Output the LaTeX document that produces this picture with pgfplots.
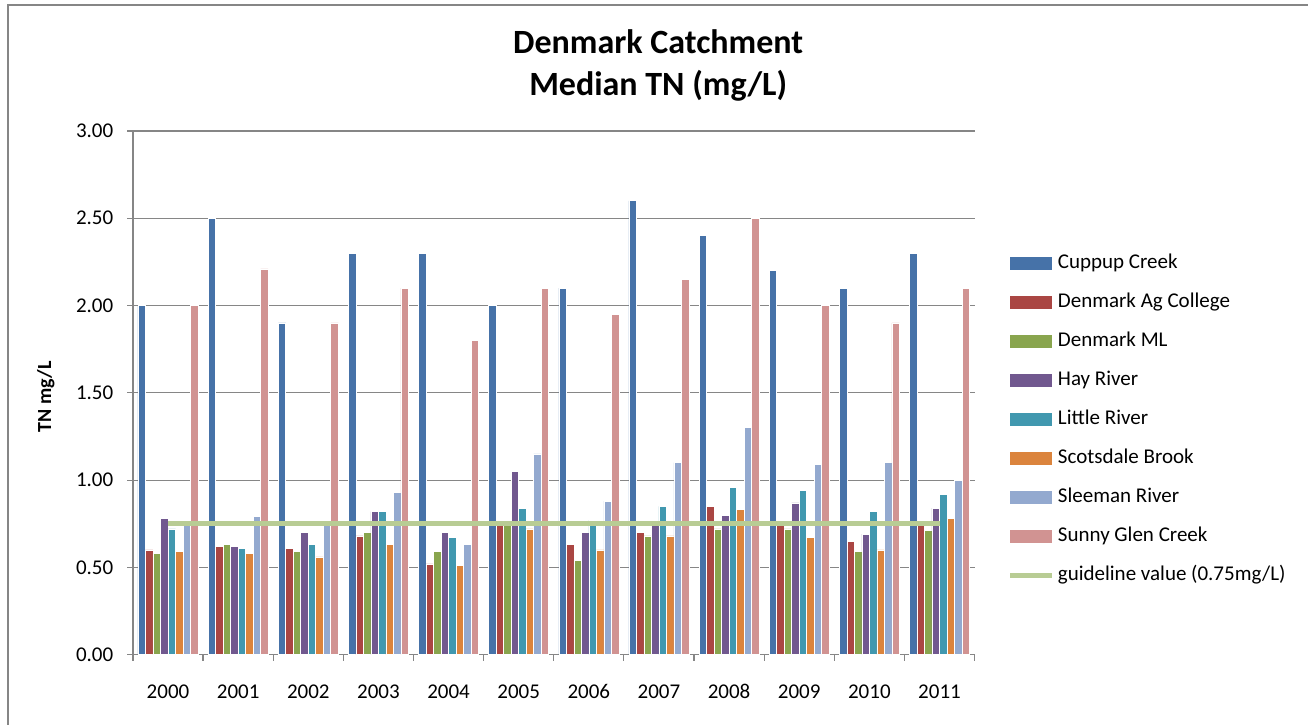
\documentclass[border=0pt]{standalone}
\usepackage{pgfplots}
\usepackage{pgfplotstable}
\pgfplotsset{compat=1.18}
\usepackage{fontspec}
\setmainfont{Carlito}

\definecolor{cup}{RGB}{70,114,168}
\definecolor{agc}{RGB}{170,70,67}
\definecolor{dml}{RGB}{137,165,78}
\definecolor{hay}{RGB}{113,88,143}
\definecolor{lit}{RGB}{65,152,175}
\definecolor{sco}{RGB}{219,132,61}
\definecolor{sle}{RGB}{147,169,207}
\definecolor{sun}{RGB}{209,147,146}
\definecolor{guide}{RGB}{184,204,148}
\definecolor{gridgray}{RGB}{134,134,134}

% median TN per site, year index 0 = 2000
\pgfplotstableread{
yr  cup  ag   ml   hay  lit  sco  sle  sun
0   2.00 0.60 0.58 0.78 0.72 0.59 0.74 2.00
1   2.50 0.62 0.63 0.62 0.61 0.58 0.79 2.21
2   1.90 0.61 0.59 0.70 0.63 0.56 0.74 1.90
3   2.30 0.68 0.70 0.82 0.82 0.63 0.93 2.10
4   2.30 0.52 0.59 0.70 0.67 0.51 0.63 1.80
5   2.00 0.75 0.75 1.05 0.84 0.72 1.15 2.10
6   2.10 0.63 0.54 0.70 0.77 0.60 0.88 1.95
7   2.60 0.70 0.68 0.77 0.85 0.68 1.10 2.15
8   2.40 0.85 0.72 0.80 0.96 0.83 1.30 2.50
9   2.20 0.74 0.72 0.87 0.94 0.67 1.09 2.00
10  2.10 0.65 0.59 0.69 0.82 0.60 1.10 1.90
11  2.30 0.74 0.71 0.84 0.92 0.78 1.00 2.10
}\tn

\pgfplotsset{
  barleg/.style={legend image code/.code={\fill[##1,draw=none] (0pt,-3.25pt) rectangle (21pt,3.25pt);}},
  lineleg/.style={legend image code/.code={\draw[##1] (0pt,0pt) -- (21pt,0pt);}},
}

\begin{document}
\begin{tikzpicture}
% canvas: 1px of the reference = 0.5pt, origin at the lower left of the plot area
\path[fill=white] (-66.5pt,-35pt) rectangle (588pt,327.5pt);
\draw[gridgray,line width=0.6pt] (-62.5pt,-35pt) -- (-62.5pt,325pt) -- (588pt,325pt);

\begin{axis}[
    at={(0pt,0pt)}, anchor=south west,
    scale only axis, width=421pt, height=262pt,
    ybar=0pt, bar width=0.107,
    xmin=-0.5, xmax=11.5, ymin=0, ymax=3,
    axis x line*=bottom, axis y line*=left,
    axis line style={gridgray,line width=0.6pt},
    tick align=outside,
    xtick={0,...,11},
    xticklabels={2000,2001,2002,2003,2004,2005,2006,2007,2008,2009,2010,2011},
    major x tick style={draw=none},
    minor xtick={-0.5,0.5,...,11.5},
    minor tick length=3pt,
    minor x tick style={gridgray,line width=0.6pt},
    ytick={0,0.5,...,3},
    major tick length=2.8pt,
    major y tick style={gridgray,line width=0.6pt},
    ymajorgrids=true,
    grid style={gridgray,line width=0.6pt},
    /pgf/number format/assume math mode=true,
    tick label style={font=\fontsize{10.5}{12}\selectfont},
    yticklabel style={/pgf/number format/fixed,/pgf/number format/fixed zerofill,
      /pgf/number format/precision=2,xshift=-3.5pt},
    xticklabel style={anchor=base,yshift=-19pt},
    ylabel={\bfseries TN mg/L},
    ylabel style={at={(axis description cs:-0.1035,0.492)},anchor=center,font=\fontsize{10}{12}\selectfont},
    legend style={at={(axis description cs:1.0392,0.7653)},anchor=north west,
      draw=none,fill=none,inner sep=0pt,row sep=10.5pt,
      font=\fontsize{10.5}{12}\selectfont,
      nodes={inner sep=0pt,text height=7pt,text depth=2pt},
      /tikz/every odd column/.append style={column sep=1.5pt}},
    legend cell align=left,
    every axis plot/.append style={draw=white,line width=0.3pt},
]
\addplot[fill=cup,barleg] table[x=yr,y=cup] {\tn};
\addlegendentry{Cuppup Creek}
\addplot[fill=agc,barleg] table[x=yr,y=ag] {\tn};
\addlegendentry{Denmark Ag College}
\addplot[fill=dml,barleg] table[x=yr,y=ml] {\tn};
\addlegendentry{Denmark ML}
\addplot[fill=hay,barleg] table[x=yr,y=hay] {\tn};
\addlegendentry{Hay River}
\addplot[fill=lit,barleg] table[x=yr,y=lit] {\tn};
\addlegendentry{Little River}
\addplot[fill=sco,barleg] table[x=yr,y=sco] {\tn};
\addlegendentry{Scotsdale Brook}
\addplot[fill=sle,barleg] table[x=yr,y=sle] {\tn};
\addlegendentry{Sleeman River}
\addplot[fill=sun,barleg] table[x=yr,y=sun] {\tn};
\addlegendentry{Sunny Glen Creek}
\addplot[sharp plot,draw=guide,line width=2.5pt,lineleg]
  coordinates {(0,0.75) (1,0.75) (2,0.75) (3,0.75) (4,0.75) (5,0.75)
               (6,0.75) (7,0.75) (8,0.75) (9,0.75) (10,0.75) (11,0.75)};
\addlegendentry{guideline value (0.75mg/L)}
\end{axis}

\node[anchor=base,font=\fontsize{17}{20}\bfseries] at (262.75pt,300.5pt) {Denmark Catchment};
\node[anchor=base,font=\fontsize{17}{20}\bfseries] at (262.75pt,279.5pt) {Median TN (mg/L)};
\end{tikzpicture}
\end{document}
